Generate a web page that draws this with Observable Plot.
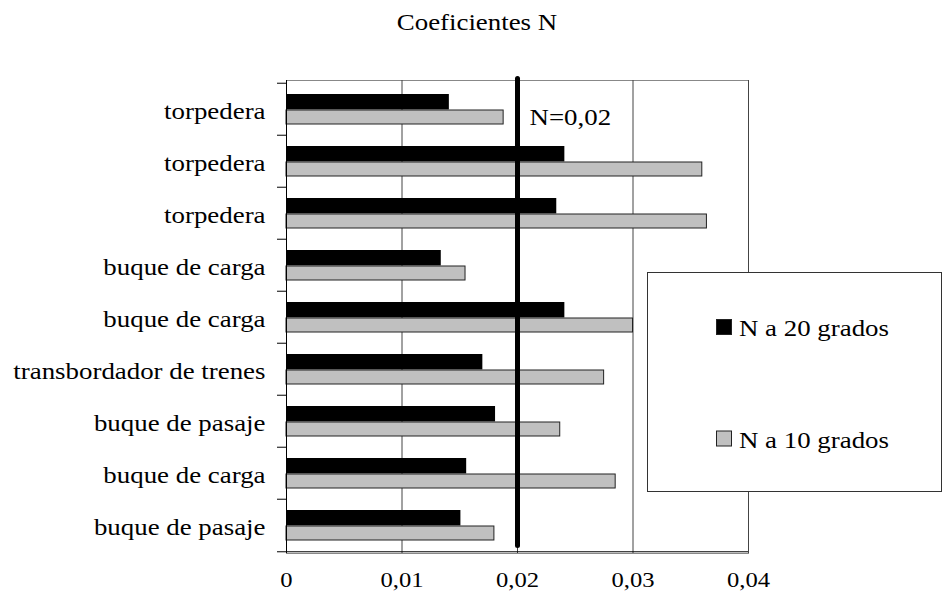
<!DOCTYPE html>
<html>
<head>
<meta charset="utf-8">
<script src="https://cdn.jsdelivr.net/npm/d3@7"></script>
<script src="https://cdn.jsdelivr.net/npm/@observablehq/plot@0.6"></script>
<style>
  html, body { margin: 0; padding: 0; background: white; }
  #wrap { position: relative; width: 944px; height: 608px; }
  #wrap svg { position: absolute; left: 0; top: 0; }
</style>
</head>
<body>
<div id="wrap"></div>
<script>
const title = "Coeficientes N";
const categories = ["torpedera", "torpedera", "torpedera", "buque de carga", "buque de carga",
  "transbordador de trenes", "buque de pasaje", "buque de carga", "buque de pasaje"];
const n20 = [0.0141, 0.0241, 0.0234, 0.0134, 0.0241, 0.0170, 0.0181, 0.0156, 0.0151];
const n10 = [0.0188, 0.0360, 0.0364, 0.0155, 0.0300, 0.0275, 0.0237, 0.0285, 0.0180];
const seriesLabels = ["N a 20 grados", "N a 10 grados"];
const seriesColors = ["black", "#c0c0c0"];
const xTicks = [0, 0.01, 0.02, 0.03, 0.04];
const refValue = 0.02;

const fmt = d => d === 0 ? "0" : d.toFixed(2).replace(".", ",");
const rows = categories.map((c, i) => ({i, c, n20: n20[i], n10: n10[i]}));

const W = 944, H = 608, mT = 80, mB = 55, mL = 286, mR = 196;
const half = (H - mT - mB) / categories.length / 2;
const FONT = "'Liberation Serif', 'Times New Roman', serif";
const STRETCH = 1.12; // the reference type is slightly wide

const chart = Plot.plot({
  width: W, height: H,
  marginTop: mT, marginBottom: mB, marginLeft: mL, marginRight: mR,
  style: {fontFamily: FONT, fontSize: "22px", background: "white", color: "black", overflow: "visible"},
  x: {domain: [0, 0.04]},
  y: {domain: d3.range(categories.length), padding: 0},
  marks: [
    Plot.frame({stroke: "#888"}),
    Plot.ruleX(xTicks.slice(1), {stroke: "#444"}),
    Plot.barX(rows, {x1: 0, x2: "n20", y: "i", fill: seriesColors[0], insetTop: 11, insetBottom: 2 * half - 27}),
    Plot.barX(rows, {x1: 0, x2: "n10", y: "i", fill: seriesColors[1], stroke: "#222", strokeWidth: 1, insetTop: 27, insetBottom: 11}),
    Plot.ruleX([0], {stroke: "black"}),
    Plot.ruleY(rows, {y: "i", x1: 0, x2: 0, insetLeft: -9, dy: -half, stroke: "black"}),
    Plot.ruleY(rows.slice(-1), {y: "i", x1: 0, x2: 0.04, insetLeft: -9, dy: half, stroke: "black"}),
    Plot.ruleX([refValue], {stroke: "black", strokeWidth: 5, strokeLinecap: "round", insetTop: -1.5, insetBottom: 7.5}),
    Plot.text([refValue], {x: d => d, frameAnchor: "top", text: d => "N=" + fmt(d), textAnchor: "start", dx: 12, dy: 27, fontSize: 24}),
    Plot.axisX({ticks: xTicks, tickSize: 0, tickPadding: 18, tickFormat: fmt, fontSize: 22, label: null}),
    Plot.axisY({tickSize: 0, tickPadding: 21, dy: 1.5, tickFormat: i => categories[i], fontSize: 24, label: null})
  ]
});
const wrap = document.getElementById("wrap");
wrap.appendChild(chart);

// widen the glyphs horizontally around each text's anchor point
d3.select(chart).selectAll("text").each(function() {
  const t = d3.select(this);
  const tr = t.attr("transform");
  if (tr) {
    t.attr("transform", tr + ` scale(${STRETCH},1)`);
  } else {
    const x = +t.attr("x") || 0, y = +t.attr("y") || 0;
    t.attr("x", null).attr("y", null)
     .attr("transform", `translate(${x},${y}) scale(${STRETCH},1)`);
  }
});

// overlay: title and legend
const ov = d3.select(wrap).append("svg")
  .attr("width", W).attr("height", H)
  .style("pointer-events", "none")
  .style("font-family", FONT);

ov.append("text").attr("transform", `translate(477,30) scale(${STRETCH},1)`)
  .attr("text-anchor", "middle").attr("font-size", 24).text(title);

ov.append("rect").attr("x", 647.5).attr("y", 272.5).attr("width", 294).attr("height", 219)
  .attr("fill", "white").attr("stroke", "#333").attr("stroke-width", 1);

const legY = [319.5, 431];
seriesLabels.forEach((lab, k) => {
  ov.append("rect").attr("x", 716.5).attr("y", legY[k]).attr("width", 15).attr("height", 15)
    .attr("fill", seriesColors[k]).attr("stroke", "#222").attr("stroke-width", 1);
  ov.append("text").attr("transform", `translate(739,${legY[k] + 16.7}) scale(${STRETCH},1)`)
    .attr("font-size", 24).text(lab);
});
</script>
</body>
</html>
